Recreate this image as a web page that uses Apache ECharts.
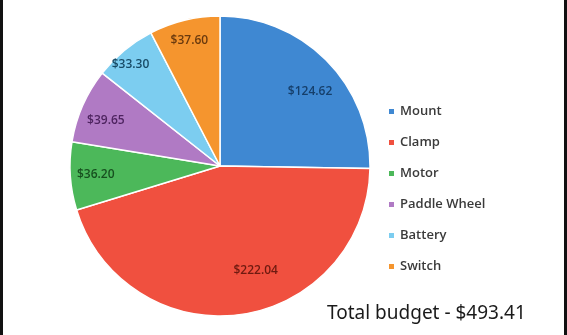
<!DOCTYPE html>
<html>
<head>
<meta charset="utf-8">
<script src="https://cdn.jsdelivr.net/npm/echarts@6/dist/echarts.min.js"></script>
<style>
html,body{margin:0;padding:0;background:#fff;}
#chart{width:567px;height:335px;}
</style>
</head>
<body>
<div id="chart"></div>
<script>
// Data
const categories = ['Mount', 'Clamp', 'Motor', 'Paddle Wheel', 'Battery', 'Switch'];
const values = [124.62, 222.04, 36.20, 39.65, 33.30, 37.60];
const totalText = 'Total budget - $493.41';

// Styles (not data)
const sliceColors = ['#3f88d2', '#f0503f', '#4cb85a', '#b07ac4', '#7ccdf0', '#f5952e'];
const labelColors = ['#163f6b', '#6e1a10', '#17501f', '#4e2460', '#184b66', '#6a3a0e'];
const labelRadiusFrac = [0.76, 0.72, 0.81, 0.80, 0.88, 0.84];
const labelAngleShiftDeg = [5, -11, 0, -2, -2, 0];
const R = 150;
const CX = 220, CY = 166;

const total = values.reduce((a, b) => a + b, 0);
let acc = 0;
const pieData = categories.map((name, i) => {
  const start = acc / total * 2 * Math.PI;
  acc += values[i];
  const end = acc / total * 2 * Math.PI;
  const mid = (start + end) / 2;
  const target = mid + labelAngleShiftDeg[i] * Math.PI / 180;
  const rt = labelRadiusFrac[i] * R;
  const rm = 0.5 * R;
  const ox = rt * Math.sin(target) - rm * Math.sin(mid);
  const oy = -rt * Math.cos(target) + rm * Math.cos(mid);
  return {
    name: name,
    value: values[i],
    itemStyle: { color: sliceColors[i] },
    label: { color: labelColors[i], offset: [ox, oy] }
  };
});

const chart = echarts.init(document.getElementById('chart'), null, { renderer: 'canvas' });
chart.setOption({
  backgroundColor: '#ffffff',
  animation: false,
  legend: {
    orient: 'vertical',
    left: 382,
    top: 100,
    icon: 'rect',
    itemWidth: 7,
    itemHeight: 7,
    itemGap: 18,
    textStyle: { fontFamily: 'Open Sans', fontSize: 13, fontWeight: 600, color: '#3a3a3a' },
    data: categories
  },
  series: [{
    type: 'pie',
    center: [CX, CY],
    radius: [0, R],
    startAngle: 90,
    clockwise: true,
    silent: true,
    itemStyle: { borderColor: '#ffffff', borderWidth: 1.5 },
    label: {
      show: true,
      position: 'inside',
      formatter: p => '$' + p.value.toFixed(2),
      fontFamily: 'Open Sans',
      fontSize: 12,
      fontWeight: 600
    },
    labelLine: { show: false },
    data: pieData
  }],
  graphic: [
    { type: 'rect', left: 0, top: 0, shape: { width: 3, height: 335 }, style: { fill: '#111' } },
    { type: 'rect', left: 564, top: 0, shape: { width: 3, height: 335 }, style: { fill: '#111' } },
    { type: 'text', left: 327, top: 304, style: { text: totalText, fontFamily: 'Noto Sans', fontSize: 19, fill: '#1a1a1a' } }
  ]
});
</script>
</body>
</html>
